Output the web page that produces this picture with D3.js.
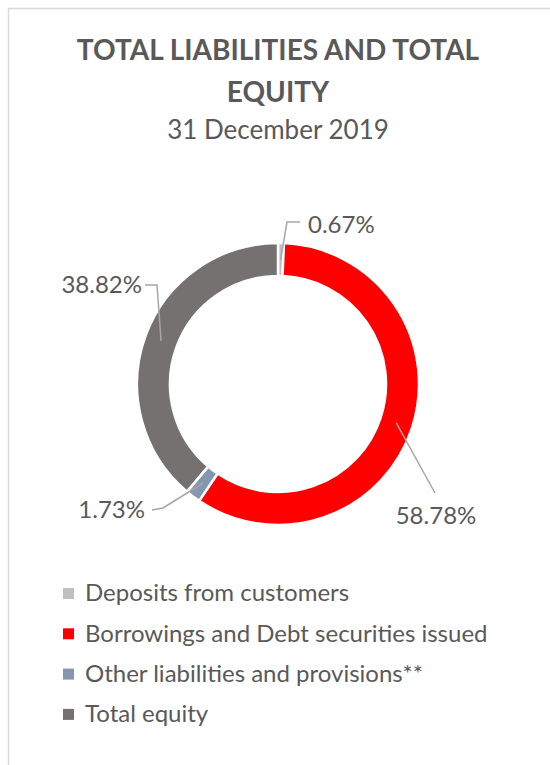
<!DOCTYPE html>
<html>
<head>
<meta charset="utf-8">
<script src="https://cdn.jsdelivr.net/npm/d3@7"></script>
<style>
  html, body { margin: 0; padding: 0; background: #fff; }
  svg { display: block; font-family: Lato, "Open Sans", sans-serif; }
</style>
</head>
<body>
<div id="chart"></div>
<script>
const categories = [
  "Deposits from customers",
  "Borrowings and Debt securities issued",
  "Other liabilities and provisions**",
  "Total equity",
];
const shares = [0.67, 58.78, 1.73, 38.82];
const colors = ["#bfbfbf", "#ff0000", "#8497b0", "#767171"];
const titleLines = ["TOTAL LIABILITIES AND TOTAL", "EQUITY"];
const subtitle = "31 December 2019";

// label placement, relative to the donut centre (manual, like the original)
const labelLayout = [
  { elbow: [[9, -162], [22, -162]], text: [30, -159], anchor: "start" },
  { elbow: [[157, 109]], text: [158, 132], anchor: "middle" },
  { elbow: [[-115, 124], [-126, 126]], text: [-133, 126], anchor: "end" },
  { elbow: [[-121, -99], [-133, -99]], text: [-136, -99], anchor: "end" },
];

const width = 550;
const height = 765;
const cx = 278;
const cy = 384;
const outerR = 141;
const innerR = 108;
const textColor = "#595959";

const svg = d3
  .select("#chart")
  .append("svg")
  .attr("width", width)
  .attr("height", height);

// frame of the original slide panel
svg
  .append("path")
  .attr("d", `M8.5,${height} V8.5 H${width}`)
  .attr("fill", "none")
  .attr("stroke", "#d9d9d9")
  .attr("stroke-width", 1.5);

const title = svg
  .append("text")
  .attr("text-anchor", "middle")
  .attr("fill", textColor)
  .attr("font-weight", 700)
  .attr("font-size", 28);
title
  .selectAll("tspan")
  .data(titleLines)
  .join("tspan")
  .attr("x", cx)
  .attr("y", (d, i) => 60 + i * 42)
  .text((d) => d);

svg
  .append("text")
  .attr("x", cx)
  .attr("y", 139)
  .attr("text-anchor", "middle")
  .attr("fill", textColor)
  .attr("font-size", 26)
  .text(subtitle);

const data = categories.map((name, i) => ({
  name,
  value: shares[i],
  color: colors[i],
  layout: labelLayout[i],
}));

const pie = d3
  .pie()
  .value((d) => d.value)
  .sort(null);
const arc = d3.arc().innerRadius(innerR).outerRadius(outerR);
const arcs = pie(data);

const root = svg.append("g").attr("transform", `translate(${cx},${cy})`);

root
  .selectAll(".slice")
  .data(arcs)
  .join("path")
  .attr("class", "slice")
  .attr("d", arc)
  .attr("fill", (d) => d.data.color)
  .attr("stroke", "#fff")
  .attr("stroke-width", 2.5);

const line = d3.line();
root
  .selectAll(".leader")
  .data(arcs)
  .join("path")
  .attr("class", "leader")
  .attr("d", (d) => line([arc.centroid(d), ...d.data.layout.elbow]))
  .attr("fill", "none")
  .attr("stroke", "#a6a6a6")
  .attr("stroke-width", 1.5);

root
  .selectAll(".pct")
  .data(arcs)
  .join("text")
  .attr("class", "pct")
  .attr("x", (d) => d.data.layout.text[0])
  .attr("y", (d) => d.data.layout.text[1])
  .attr("dy", "0.35em")
  .attr("text-anchor", (d) => d.data.layout.anchor)
  .attr("fill", textColor)
  .attr("font-size", 24)
  .text((d) => `${d3.format(".2f")(d.data.value)}%`);

const legend = svg
  .append("g")
  .attr("transform", "translate(63, 593)");
const rows = legend
  .selectAll("g")
  .data(data)
  .join("g")
  .attr("transform", (d, i) => `translate(0, ${i * 40.3})`);
rows
  .append("rect")
  .attr("x", 0)
  .attr("y", -5)
  .attr("width", 11)
  .attr("height", 11)
  .attr("fill", (d) => d.color);
rows
  .append("text")
  .attr("x", 22)
  .attr("y", 0)
  .attr("dy", "0.35em")
  .attr("fill", textColor)
  .attr("font-size", 24)
  .text((d) => d.name);
</script>
</body>
</html>
